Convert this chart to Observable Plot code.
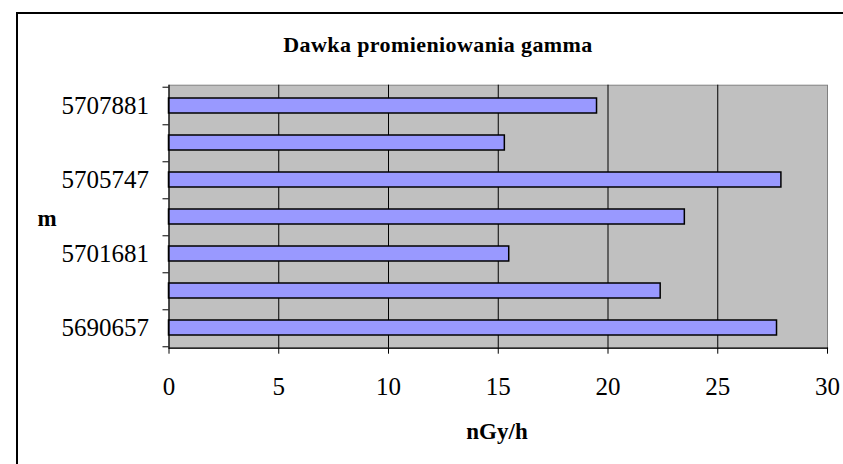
<!DOCTYPE html>
<html><head><meta charset="utf-8">
<script src="https://cdn.jsdelivr.net/npm/d3@7"></script>
<script src="https://cdn.jsdelivr.net/npm/@observablehq/plot@0.6"></script>
<style>
html,body{margin:0;padding:0;background:#fff;overflow:hidden;width:843px;height:464px;}
#wrap{position:relative;width:843px;height:464px;overflow:hidden;background:#fff;}
#wrap svg{position:absolute;left:0;top:0;}
.ln{position:absolute;background:#000;z-index:2;pointer-events:none;}
.t{position:absolute;font-family:"Liberation Serif","Times New Roman",serif;font-weight:bold;color:#000;white-space:nowrap;transform:translateX(-50%);}
</style></head><body>
<div id="wrap">
<div class="ln" style="left:16px;top:12px;width:827px;height:1.5px;"></div>
<div class="ln" style="left:16px;top:12px;width:1.5px;height:452px;"></div>
<div style="position:absolute;left:832px;top:20px;width:11px;height:350px;background:#fff;z-index:3;"></div>
<div style="position:absolute;left:840px;top:400px;width:3px;height:64px;background:#fff;z-index:3;"></div>
<div class="t" style="left:438px;top:34px;font-size:22px;line-height:22px;letter-spacing:0.4px;">Dawka promieniowania gamma</div>
<div class="t" style="left:47px;top:207px;font-size:23px;line-height:23px;">m</div>
<div class="t" style="left:497px;top:420px;font-size:23px;line-height:23px;">nGy/h</div>
</div>
<script>
// categories bottom → top (intermediate labels are hidden in the reference)
const cats = ["5690657", "5696169", "5701681", "5703714", "5705747", "5706814", "5707881"];
const values = [27.7, 22.4, 15.5, 23.5, 27.9, 15.3, 19.5];
const shownLabels = ["5690657", "5701681", "5705747", "5707881"];
const xTicks = [0, 5, 10, 15, 20, 25, 30];

const data = cats.map((c, i) => ({m: c, v: values[i]}));
const W = 843, H = 464, mL = 168.5, mR = 16, mT = 84.7, mB = 116.3;
const step = (H - mT - mB) / cats.length;
const serif = "'Liberation Serif', 'Times New Roman', serif";

const chart = Plot.plot({
  width: W, height: H,
  marginLeft: mL, marginRight: mR, marginTop: mT, marginBottom: mB,
  style: {background: "transparent", fontFamily: serif, fontSize: "25px", color: "black"},
  x: {domain: [0, 30], ticks: xTicks},
  y: {domain: cats.slice().reverse(), paddingInner: 0.585, paddingOuter: 0.2925, axis: null},
  marks: [
    Plot.frame({fill: "#C0C0C0", stroke: "#808080"}),
    Plot.gridX(xTicks.slice(1, -1), {stroke: "black", strokeOpacity: 1, strokeWidth: 1}),
    Plot.barX(data, {x: "v", y: "m", fill: "#9999FF", stroke: "black", strokeWidth: 1.5}),
    Plot.ruleX([0], {stroke: "black", strokeWidth: 1.2}),
    Plot.frame({anchor: "bottom", stroke: "black", strokeWidth: 1.2}),
    Plot.axisX(xTicks, {tickSize: 6, tickPadding: 23, label: null, fontSize: 25, fontFamily: serif, stroke: "black"}),
    Plot.axisY(cats, {tickSize: 6, tickFormat: () => "", dy: step / 2, label: null}),
    Plot.axisY([cats[cats.length - 1]], {tickSize: 6, tickFormat: () => "", dy: -step / 2, label: null}),
    Plot.axisY(cats, {tickSize: 0, tickPadding: 20, fontSize: 25, fontFamily: serif, tickFormat: d => shownLabels.includes(d) ? d : "", label: null})
  ]
});
document.getElementById("wrap").appendChild(chart);
</script>
</body></html>
